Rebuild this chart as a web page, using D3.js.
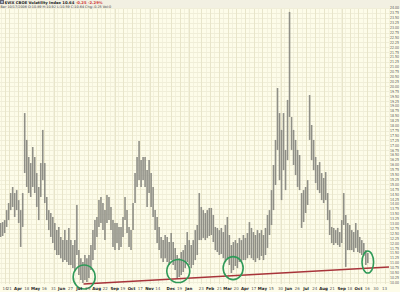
<!DOCTYPE html>
<html>
<head>
<meta charset="utf-8">
<script src="https://cdn.jsdelivr.net/npm/d3@7"></script>
<style>
  body { margin: 0; background: #fdfce9; }
  svg { display: block; font-family: "DejaVu Sans", sans-serif; }
</style>
</head>
<body>
<svg id="drawing_region"></svg>
<script>
// VIX daily range (one bar every ~3 calendar days)
const firstBar = new Date(2005, 2, 7);
const lastBar = new Date(2006, 9, 17);

const highs = [
  13.03, 13.08, 13.18, 13.69, 14.05, 14.56, 14.87, 14.56, 14.71, 14.20,
  13.69, 14.56, 18.64, 17.27, 16.40, 16.09, 16.91, 16.40, 15.58, 14.87,
  16.09, 17.78, 16.09, 14.36, 13.69, 13.54, 13.34, 13.03, 12.67, 12.83,
  12.32, 12.16, 12.67, 12.16, 12.78, 12.16, 11.91, 12.16, 13.95, 11.65,
  11.24, 11.04, 11.40, 11.24, 11.40, 11.91, 12.67, 13.18, 13.34, 14.20,
  14.36, 14.05, 13.69, 14.46, 14.36, 13.85, 13.18, 13.03, 13.03, 12.83,
  12.83, 13.34, 14.36, 13.69, 12.83, 12.67, 14.05, 15.58, 16.40, 17.21,
  16.24, 16.40, 16.40, 15.73, 16.24, 15.58, 14.87, 13.69, 13.34, 12.83,
  12.32, 12.16, 12.42, 12.32, 12.06, 12.52, 12.06, 11.76, 11.40, 11.24,
  11.55, 11.65, 11.91, 12.57, 12.16, 11.91, 12.16, 12.67, 12.93, 14.56,
  13.85, 13.69, 13.54, 13.69, 13.80, 13.80, 13.44, 12.83, 12.78, 12.67,
  12.78, 12.57, 12.93, 13.34, 12.42, 11.91, 12.06, 12.16, 12.01, 12.27,
  12.16, 12.42, 12.27, 12.52, 13.08, 12.78, 12.57, 12.42, 12.67, 12.52,
  12.67, 12.42, 12.78, 13.44, 13.69, 14.71, 15.99, 17.27, 19.92, 18.64,
  17.78, 18.64, 16.76, 19.31, 23.80, 18.44, 17.78, 17.27, 16.76, 16.50,
  14.56, 14.71, 14.87, 15.22, 19.56, 18.03, 17.27, 16.40, 15.99, 16.14,
  15.58, 15.33, 15.63, 14.56, 13.69, 12.83, 12.78, 12.67, 12.78, 12.57,
  13.18, 14.56, 13.44, 13.03, 12.93, 12.67, 12.57, 13.03, 12.67, 12.32,
  12.16, 12.01, 11.65, 11.50
];

const lows = [
  12.32, 12.37, 12.52, 12.83, 13.18, 13.69, 13.85, 13.34, 13.69, 13.03,
  11.81, 12.83, 15.58, 14.87, 14.56, 14.36, 14.87, 14.56, 13.85, 13.18,
  14.36, 15.22, 14.05, 13.18, 12.67, 12.32, 12.01, 11.65, 11.40, 11.40,
  11.24, 11.04, 11.14, 11.04, 10.89, 10.89, 10.73, 10.63, 11.40, 10.38,
  10.12, 9.97, 10.12, 10.02, 10.22, 10.63, 11.14, 11.65, 12.32, 12.83,
  13.03, 12.67, 12.16, 13.03, 13.18, 12.67, 11.81, 11.65, 12.01, 11.65,
  11.81, 12.32, 13.18, 12.52, 11.81, 11.65, 12.67, 14.05, 14.87, 15.22,
  14.87, 15.22, 14.87, 13.85, 14.56, 13.85, 13.34, 12.67, 12.01, 11.65,
  11.24, 11.04, 11.24, 11.04, 10.89, 11.14, 10.89, 10.63, 10.22, 10.28,
  10.38, 10.53, 10.73, 11.04, 10.89, 10.73, 10.89, 11.14, 11.40, 12.16,
  12.16, 12.27, 12.16, 12.27, 12.37, 12.42, 12.06, 11.65, 11.55, 11.40,
  11.45, 11.24, 11.04, 11.24, 10.89, 10.48, 10.63, 10.84, 10.73, 11.04,
  11.04, 11.14, 11.14, 11.24, 11.40, 11.24, 11.14, 11.04, 11.24, 11.14,
  11.35, 11.14, 11.40, 11.76, 12.42, 12.93, 13.69, 14.97, 16.76, 15.22,
  14.20, 15.73, 14.71, 16.24, 18.44, 16.76, 15.99, 15.48, 14.87, 14.71,
  12.78, 13.08, 13.54, 13.95, 17.27, 16.24, 15.73, 15.07, 14.71, 14.56,
  14.20, 14.05, 14.20, 13.18, 12.42, 12.01, 11.91, 12.01, 11.91, 11.81,
  12.01, 12.93, 10.79, 11.65, 11.65, 11.65, 11.55, 11.76, 11.55, 11.50,
  11.40, 11.35, 10.89, 10.99
];

// support line and the circled lows
const trendDates = [new Date(2005, 6, 18), new Date(2006, 10, 20)];
const trendValues = [9.92, 10.79];

const circleDates = [new Date(2005, 6, 19), new Date(2005, 11, 17), new Date(2006, 2, 15), new Date(2006, 9, 17)];
const circleValues = [10.28, 10.58, 10.73, 11.04];
const circleRx = [11, 11.5, 10, 5.8];
const circleRy = [12, 11.5, 11.5, 11];

// bottom date labels (month names are bold)
const dateLabels = [
  ["2005-03-14", "14"], ["2005-03-21", "21"], ["2005-04-04", "Apr"], ["2005-04-18", "18"],
  ["2005-05-02", "May"], ["2005-05-16", "16"], ["2005-05-31", "31"], ["2005-06-13", "Jun"],
  ["2005-06-27", "27"], ["2005-07-11", "Jul"], ["2005-07-25", "25"], ["2005-08-08", "Aug"],
  ["2005-08-22", "22"], ["2005-09-06", "Sep"], ["2005-09-19", "19"], ["2005-10-03", "Oct"],
  ["2005-10-17", "17"], ["2005-11-01", "Nov"], ["2005-11-14", "14"],
  ["2005-12-05", "Dec"], ["2005-12-19", "19"], ["2006-01-03", "Jan"], ["2006-01-23", "23"],
  ["2006-02-06", "Feb"], ["2006-02-21", "21"], ["2006-03-06", "Mar"],
  ["2006-03-20", "20"], ["2006-04-03", "Apr"], ["2006-04-17", "17"], ["2006-05-01", "May"],
  ["2006-05-15", "15"], ["2006-05-30", "30"], ["2006-06-12", "Jun"], ["2006-06-26", "26"],
  ["2006-07-10", "Jul"], ["2006-07-24", "24"], ["2006-08-07", "Aug"], ["2006-08-21", "21"],
  ["2006-09-05", "Sep"], ["2006-09-18", "18"], ["2006-10-02", "Oct"], ["2006-10-16", "16"],
  ["2006-10-30", "30"], ["2006-11-13", "13"]
];

const yTickValues = d3.range(40, 97).map(d => d / 4);

const width = 400, height = 292;
const plot = {left: 0, right: 389, top: 9, bottom: 284};

const svg = d3.select('#drawing_region')
    .attr('width', width)
    .attr('height', height);

const parse = d3.timeParse('%Y-%m-%d');

const xscale = d3.scaleTime()
    .domain([new Date(2005, 2, 6), new Date(2006, 10, 20)])
    .range([plot.left, plot.right]);

const yscale = d3.scaleLinear()
    .domain([9.92, 24.0])
    .range([plot.bottom, 8]);

// background
svg.append('rect')
    .attr('width', width).attr('height', height)
    .attr('fill', '#fdfce9');
svg.append('rect')
    .attr('width', width).attr('height', plot.top)
    .attr('fill', '#f2f0e2');

// grid
const grid = svg.append('g');
const weeks = d3.timeMonday.range(new Date(2005, 2, 7), new Date(2006, 10, 21));
grid.selectAll('.vweek')
    .data(weeks)
    .join('line')
    .attr('x1', d => Math.round(xscale(d)) + 0.5)
    .attr('x2', d => Math.round(xscale(d)) + 0.5)
    .attr('y1', plot.top).attr('y2', plot.bottom)
    .attr('stroke', '#f3f1dd')
    .attr('stroke-width', 1);
grid.selectAll('.hline')
    .data(yTickValues)
    .join('line')
    .attr('x1', plot.left).attr('x2', plot.right)
    .attr('y1', d => Math.round(yscale(d)) + 0.5)
    .attr('y2', d => Math.round(yscale(d)) + 0.5)
    .attr('stroke', '#f0eed8')
    .attr('stroke-width', 1);
grid.selectAll('.vlabel')
    .data(dateLabels)
    .join('line')
    .attr('x1', d => Math.round(xscale(parse(d[0]))) + 0.5)
    .attr('x2', d => Math.round(xscale(parse(d[0]))) + 0.5)
    .attr('y1', plot.top).attr('y2', plot.bottom)
    .attr('stroke', '#e8e5ca')
    .attr('stroke-width', 1);

// price bars
const n = highs.length;
const barDate = i => new Date(+firstBar + (lastBar - firstBar) * i / (n - 1));
svg.append('g')
    .selectAll('line')
    .data(highs.map((h, i) => ({date: barDate(i), high: h, low: lows[i]})))
    .join('line')
    .attr('x1', d => xscale(d.date))
    .attr('x2', d => xscale(d.date))
    .attr('y1', d => yscale(d.high))
    .attr('y2', d => yscale(d.low))
    .attr('stroke', '#8f8f87')
    .attr('stroke-width', 1.6);

// support line
const line = d3.line()
    .x(d => xscale(d[0]))
    .y(d => yscale(d[1]));
svg.append('path')
    .attr('d', line(trendDates.map((d, i) => [d, trendValues[i]])))
    .attr('stroke', '#a8343a')
    .attr('stroke-width', 1.5)
    .attr('fill', 'none');

// circled lows
svg.append('g')
    .selectAll('ellipse')
    .data(circleDates)
    .join('ellipse')
    .attr('cx', d => xscale(d))
    .attr('cy', (d, i) => yscale(circleValues[i]))
    .attr('rx', (d, i) => circleRx[i])
    .attr('ry', (d, i) => circleRy[i])
    .attr('fill', 'none')
    .attr('stroke', '#2f9a58')
    .attr('stroke-width', 1.6);

// right value labels
svg.append('g')
    .selectAll('text')
    .data(yTickValues)
    .join('text')
    .attr('x', 390)
    .attr('y', d => yscale(d) + 1.4)
    .attr('font-size', 4)
    .attr('textLength', 9)
    .attr('lengthAdjust', 'spacingAndGlyphs')
    .attr('fill', '#5a5a55')
    .text(d => d.toFixed(2));

// bottom date labels
svg.append('g')
    .selectAll('text')
    .data(dateLabels)
    .join('text')
    .attr('x', d => xscale(parse(d[0])))
    .attr('y', 289.5)
    .attr('text-anchor', 'middle')
    .attr('font-size', 4)
    .attr('font-weight', d => isNaN(+d[1]) ? 'bold' : 'normal')
    .attr('fill', d => isNaN(+d[1]) ? '#222' : '#5a5a55')
    .text(d => d[1]);

// header
svg.append('rect')
    .attr('x', 0.5).attr('y', 0.5).attr('width', 3).attr('height', 3)
    .attr('fill', '#9fb4cc').attr('stroke', '#667');
const title = svg.append('text')
    .attr('x', 4.5).attr('y', 3.8)
    .attr('font-size', 3.8)
    .attr('font-weight', 'bold')
    .attr('fill', '#222');
title.append('tspan').text('$VIX CBOE Volatility Index  10.64  ');
title.append('tspan').attr('fill', '#d0383a').text('-0.25  -2.29%');
svg.append('text')
    .attr('x', 0.5).attr('y', 8)
    .attr('font-size', 3.4)
    .attr('fill', '#444')
    .text('Bar 10/17/2006  O:10.89  H:10.92  L:10.59  C:10.64  Chg:-0.25  Vol:0');
</script>
</body>
</html>
